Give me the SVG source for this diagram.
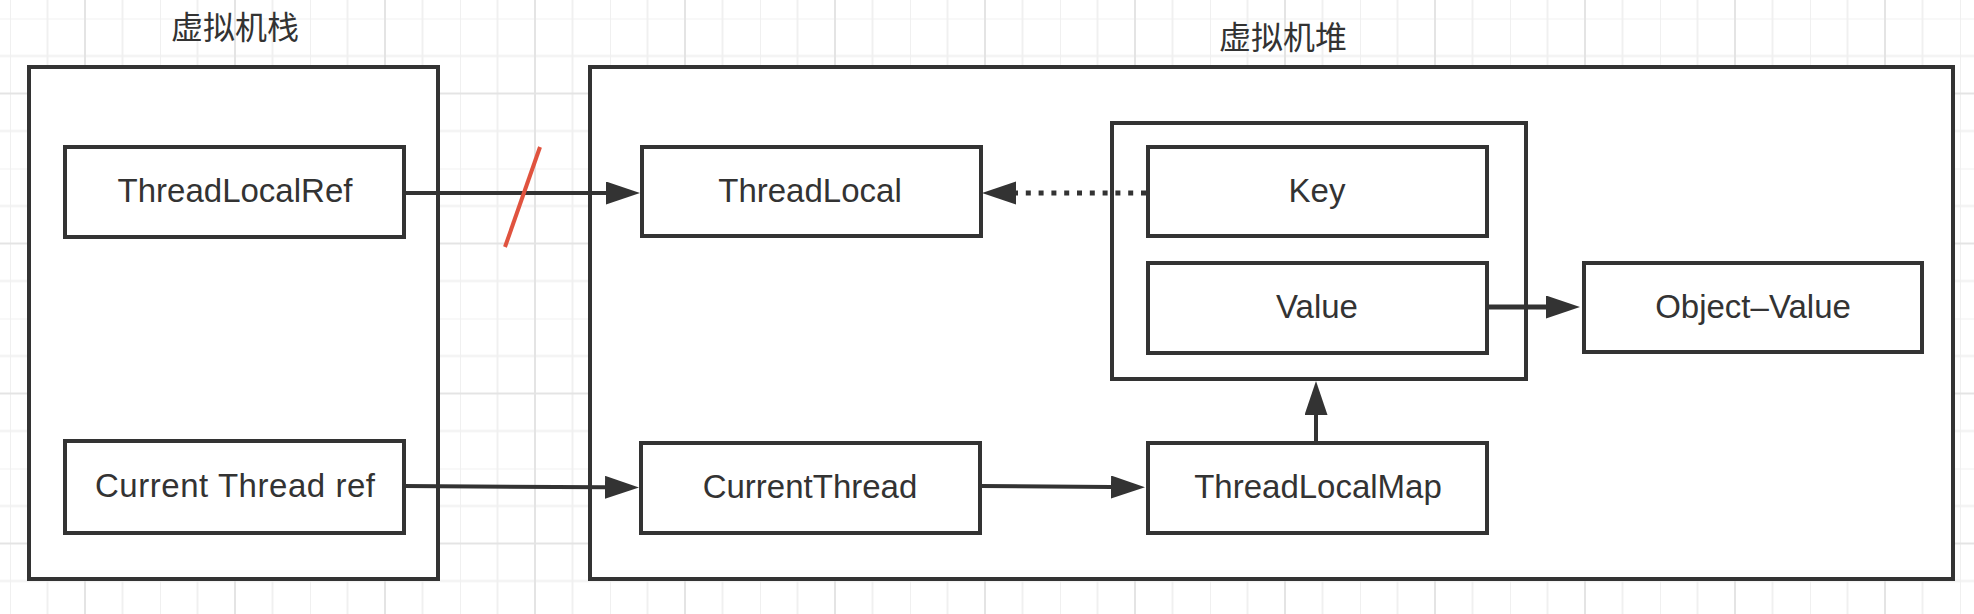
<svg xmlns="http://www.w3.org/2000/svg" width="1974" height="614" viewBox="0 0 1974 614">
  <style>
    .box { fill: #ffffff; stroke: #333333; stroke-width: 4; }
    .lbl { font-family: "Liberation Sans", Arial, sans-serif; font-size: 33px; fill: #333333; text-anchor: middle; }
    .title { font-family: "Noto Sans CJK SC", "Noto Sans", sans-serif; font-size: 32px; fill: #333333; text-anchor: middle; }
    .conn { fill: none; stroke: #333333; stroke-width: 4; }
    .minor { stroke: #f0f0f0; stroke-width: 2; }
    .major { stroke: #e4e4e4; stroke-width: 2; }
  </style>
  <defs>
    <pattern id="grid" patternUnits="userSpaceOnUse" x="10" y="18.5" width="150" height="150">
      <line class="minor" x1="0" y1="0" x2="0" y2="150"/>
      <line class="minor" x1="37.5" y1="0" x2="37.5" y2="150"/>
      <line class="minor" x1="112.5" y1="0" x2="112.5" y2="150"/>
      <line class="minor" x1="0" y1="0" x2="150" y2="0"/>
      <line class="minor" x1="0" y1="37.5" x2="150" y2="37.5"/>
      <line class="minor" x1="0" y1="112.5" x2="150" y2="112.5"/>
      <line class="major" x1="75" y1="0" x2="75" y2="150"/>
      <line class="major" x1="0" y1="75" x2="150" y2="75"/>
    </pattern>
    <marker id="arrow" markerUnits="userSpaceOnUse" markerWidth="36" markerHeight="24" refX="0" refY="11.5" orient="auto">
      <path d="M0,0 L34,11.5 L0,23 Z" fill="#333333"/>
    </marker>
  </defs>

  <rect x="0" y="0" width="1974" height="614" fill="#ffffff"/>
  <rect x="0" y="0" width="1974" height="614" fill="url(#grid)"/>

  <g id="titles">
    <text class="title" x="235" y="39">虚拟机栈</text>
    <text class="title" x="1283" y="49">虚拟机堆</text>
  </g>

  <g id="stack">
    <rect class="box" x="29" y="67" width="409" height="512"/>
  </g>
  <g id="heap">
    <rect class="box" x="590" y="67" width="1363" height="512"/>
  </g>

  <g id="threadLocalRef">
    <rect class="box" x="65" y="147" width="339" height="90"/>
    <text class="lbl" x="235" y="202">ThreadLocalRef</text>
  </g>
  <g id="currentThreadRef">
    <rect class="box" x="65" y="441" width="339" height="92"/>
    <text class="lbl" x="235" y="497" textLength="280" lengthAdjust="spacing">Current Thread ref</text>
  </g>
  <g id="threadLocal">
    <rect class="box" x="642" y="147" width="339" height="89"/>
    <text class="lbl" x="810" y="202">ThreadLocal</text>
  </g>
  <g id="currentThread">
    <rect class="box" x="641" y="443" width="339" height="90"/>
    <text class="lbl" x="810" y="498">CurrentThread</text>
  </g>
  <g id="entry">
    <rect class="box" x="1112" y="123" width="414" height="256"/>
  </g>
  <g id="key">
    <rect class="box" x="1148" y="147" width="339" height="89"/>
    <text class="lbl" x="1317" y="202">Key</text>
  </g>
  <g id="value">
    <rect class="box" x="1148" y="263" width="339" height="90"/>
    <text class="lbl" x="1317" y="318">Value</text>
  </g>
  <g id="objectValue">
    <rect class="box" x="1584" y="263" width="338" height="89"/>
    <text class="lbl" x="1753" y="318">Object–Value</text>
  </g>
  <g id="threadLocalMap">
    <rect class="box" x="1148" y="443" width="339" height="90"/>
    <text class="lbl" x="1318" y="498">ThreadLocalMap</text>
  </g>

  <g id="connectors">
    <path class="conn" d="M404,193 L606,193" marker-end="url(#arrow)"/>
    <path class="conn" d="M1146,193 L1016,193" style="stroke-width:5" stroke-dasharray="5 7.8" marker-end="url(#arrow)"/>
    <path class="conn" d="M1487,307 L1546,307" style="stroke-width:5" marker-end="url(#arrow)"/>
    <path class="conn" d="M1316,443 L1316,415" marker-end="url(#arrow)"/>
    <path class="conn" d="M404,486 L605,487.3" marker-end="url(#arrow)"/>
    <path class="conn" d="M981,486 L1111,487" marker-end="url(#arrow)"/>
    <line x1="540" y1="147" x2="505" y2="247" stroke="#e0533f" stroke-width="4"/>
  </g>
</svg>
